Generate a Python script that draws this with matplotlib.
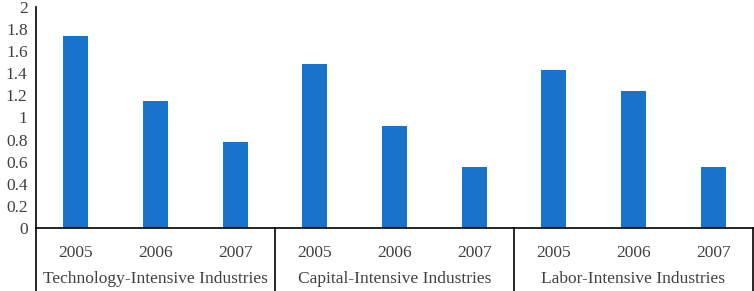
import matplotlib.pyplot as plt
from matplotlib.ticker import FuncFormatter, MultipleLocator

plt.rcParams['font.family'] = ['Liberation Serif', 'DejaVu Serif']

groups = ['Technology-Intensive Industries', 'Capital-Intensive Industries', 'Labor-Intensive Industries']
years = ['2005', '2006', '2007']
tech = [1.74, 1.15, 0.78]
capital = [1.48, 0.92, 0.55]
labor = [1.43, 1.24, 0.55]

values = tech + capital + labor
labels = years * len(groups)

fig = plt.figure(figsize=(7.54, 2.91), dpi=100)
ax = fig.add_axes([36 / 754, 63 / 291, 717 / 754, 221 / 291])

x = list(range(len(values)))
ax.bar(x, values, width=0.31, color='#1873CC')

ax.set_xlim(-0.5, len(values) - 0.5)
ax.set_ylim(0, 2)
ax.yaxis.set_major_locator(MultipleLocator(0.2))
ax.yaxis.set_major_formatter(FuncFormatter(lambda v, p: '%g' % round(v, 1)))
ax.tick_params(axis='y', length=0, labelsize=12.5, pad=6, colors='#404040')
ax.tick_params(axis='y', labelcolor='#404040')

ax.set_xticks(x)
ax.set_xticklabels(labels)
ax.tick_params(axis='x', length=0, labelsize=12.5, pad=12, labelcolor='#404040')

for s in ['top', 'right']:
    ax.spines[s].set_visible(False)
ax.spines['left'].set_color('black')
ax.spines['bottom'].set_color('black')
ax.spines['left'].set_linewidth(1.2)
ax.spines['bottom'].set_linewidth(1.2)

# group labels and dividers below the axis
n = len(years)
for i, g in enumerate(groups):
    center = (i * n + (i + 1) * n - 1) / 2
    ax.text(center, -0.23, g, transform=ax.get_xaxis_transform(), ha='center',
            va='center', fontsize=12.5, color='#404040')
for i in range(len(groups) + 1):
    xd = i * n - 0.5
    ax.plot([xd, xd], [0, -0.3], transform=ax.get_xaxis_transform(), color='black',
            lw=1.2, clip_on=False)

fig.savefig('out.png', dpi=100)
